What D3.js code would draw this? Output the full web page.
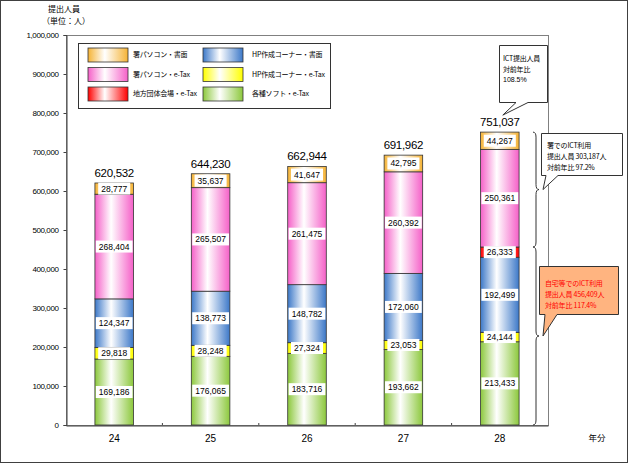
<!DOCTYPE html>
<html>
<head>
<meta charset="utf-8">
<script src="https://d3js.org/d3.v7.min.js"></script>
<style>
  body { margin: 0; background: #fff; }
  svg { display: block; }
  text { font-family: "Liberation Sans", "Noto Sans CJK JP", sans-serif; }
  .jp { font-family: "Noto Sans CJK JP", sans-serif; }
</style>
</head>
<body>
<div id="chart"></div>
<script>
// 年分
const years = ["24", "25", "26", "27", "28"];
// series, bottom to top
const softEtax  = [169186, 176065, 183716, 193662, 213433];
const hpEtax    = [29818, 28248, 27324, 23053, 24144];
const hpPaper   = [124347, 138773, 148782, 172060, 192499];
const localEtax = [0, 0, 0, 0, 26333];
const pcEtax    = [268404, 265507, 261475, 260392, 250361];
const pcPaper   = [28777, 35637, 41647, 42795, 44267];
const yTicks = [0, 100000, 200000, 300000, 400000, 500000, 600000, 700000, 800000, 900000, 1000000];

const seriesDefs = [
  { key: "soft",  name: "各種ソフト・e-Tax",     color: "#8cc83c", values: softEtax },
  { key: "hpE",   name: "HP作成コーナー・e-Tax", color: "#ffff00", values: hpEtax },
  { key: "hpP",   name: "HP作成コーナー・書面",   color: "#3c78c8", values: hpPaper },
  { key: "local", name: "地方団体会場・e-Tax",   color: "#ff0000", values: localEtax },
  { key: "pcE",   name: "署パソコン・e-Tax",     color: "#f560c8", values: pcEtax },
  { key: "pcP",   name: "署パソコン・書面",       color: "#f5b335", values: pcPaper }
];

const W = 628, H = 464;
const plot = { left: 66, right: 548, top: 35, bottom: 425 };

const svg = d3.select("#chart").append("svg").attr("width", W).attr("height", H);

// gradients: colour at edges, white toward the middle
const defs = svg.append("defs");
seriesDefs.forEach((s) => {
  const g = defs.append("linearGradient").attr("id", "grad-" + s.key)
    .attr("x1", "0%").attr("x2", "100%").attr("y1", "0%").attr("y2", "0%");
  g.append("stop").attr("offset", "0%").attr("stop-color", s.color);
  g.append("stop").attr("offset", "42%").attr("stop-color", "#ffffff");
  g.append("stop").attr("offset", "100%").attr("stop-color", s.color);
});

// outer frame
svg.append("rect")
  .attr("x", 0.5).attr("y", 0.5).attr("width", W - 1).attr("height", H - 2)
  .attr("fill", "#fff").attr("stroke", "#404040").attr("stroke-width", 1);

// table for stack
const table = years.map((y, i) => {
  const row = { year: y };
  seriesDefs.forEach((s) => { row[s.key] = s.values[i]; });
  return row;
});
const stacked = d3.stack().keys(seriesDefs.map((s) => s.key))(table);

// Scales
const x = d3.scaleBand().domain(years)
  .range([plot.left, plot.right]).paddingInner(0.6).paddingOuter(0.3);
const y = d3.scaleLinear().domain([0, 1000000]).range([plot.bottom, plot.top]);

// plot frame
svg.append("rect")
  .attr("x", plot.left + 0.5).attr("y", plot.top + 0.5)
  .attr("width", plot.right - plot.left).attr("height", plot.bottom - plot.top)
  .attr("fill", "none").attr("stroke", "#808080");

// Y axis
const yAxis = svg.append("g")
  .attr("transform", `translate(${plot.left + 0.5},0)`)
  .call(d3.axisLeft(y).tickValues(yTicks).tickFormat(d3.format(",")).tickSize(3).tickPadding(5));
yAxis.select(".domain").attr("stroke", "#404040");
yAxis.selectAll(".tick line").attr("stroke", "#404040");
yAxis.selectAll("text")
  .attr("font-size", "8px").attr("fill", "#000").attr("letter-spacing", "-0.4px")
  .style("font-family", "'Liberation Sans Narrow', 'Liberation Sans', sans-serif");

// X axis
const xAxis = svg.append("g")
  .attr("transform", `translate(0,${plot.bottom + 0.5})`)
  .call(d3.axisBottom(x).tickSize(0).tickPadding(9));
xAxis.select(".domain").attr("stroke", "#404040");
xAxis.selectAll("text").attr("font-size", "10px").attr("fill", "#000");
// small separators between categories
svg.append("g").selectAll("line")
  .data(years.slice(1))
  .enter().append("line")
  .attr("x1", (d) => x(d) - (x.step() - x.bandwidth()) / 2)
  .attr("x2", (d) => x(d) - (x.step() - x.bandwidth()) / 2)
  .attr("y1", plot.bottom - 2).attr("y2", plot.bottom)
  .attr("stroke", "#404040");

// axis titles
svg.append("text").attr("class", "jp").attr("x", 64).attr("y", 12)
  .attr("text-anchor", "middle").attr("font-size", "8px").text("提出人員");
svg.append("text").attr("class", "jp").attr("x", 66).attr("y", 24)
  .attr("text-anchor", "middle").attr("font-size", "8px").text("（単位：人）");
svg.append("text").attr("class", "jp").attr("x", 597).attr("y", 441)
  .attr("text-anchor", "middle").attr("font-size", "8.5px").text("年分");

// Bars
const layers = svg.append("g").selectAll("g.layer")
  .data(stacked).enter().append("g").attr("class", "layer")
  .attr("fill", (d) => "url(#grad-" + d.key + ")");

layers.selectAll("rect")
  .data((d) => d.filter((p) => p[1] - p[0] > 0))
  .enter().append("rect")
  .attr("x", (d) => x(d.data.year))
  .attr("y", (d) => y(d[1]))
  .attr("width", x.bandwidth())
  .attr("height", (d) => y(d[0]) - y(d[1]))
  .attr("stroke", "#333").attr("stroke-width", 0.8);

// value labels with white boxes
const fmt = d3.format(",");
stacked.forEach((layer) => {
  layer.forEach((p) => {
    const v = p[1] - p[0];
    if (v <= 0) return;
    const cx = x(p.data.year) + x.bandwidth() / 2;
    const cy = (y(p[0]) + y(p[1])) / 2;
    const g = svg.append("g");
    const t = g.append("text")
      .attr("x", cx).attr("y", cy).attr("dy", "0.35em")
      .attr("text-anchor", "middle").attr("font-size", "8.5px").attr("fill", "#000")
      .text(fmt(v));
    const w = t.node().getComputedTextLength();
    g.insert("rect", "text")
      .attr("x", cx - w / 2 - 3).attr("y", cy - 6)
      .attr("width", w + 6).attr("height", 12)
      .attr("fill", "#fff");
  });
});

// totals
const totals = years.map((yr, i) => d3.sum(seriesDefs, (s) => s.values[i]));
svg.append("g").selectAll("text")
  .data(totals).enter().append("text")
  .attr("x", (d, i) => x(years[i]) + x.bandwidth() / 2)
  .attr("y", (d) => y(d) - 6)
  .attr("text-anchor", "middle").attr("font-size", "11.5px").attr("fill", "#000")
  .attr("letter-spacing", "-0.3px")
  .text((d) => fmt(d));

// Legend
const legend = svg.append("g");
legend.append("rect").attr("x", 78.5).attr("y", 43.5).attr("width", 252).attr("height", 65)
  .attr("fill", "#fff").attr("stroke", "#333");
const legendOrder = ["pcP", "pcE", "local", "hpP", "hpE", "soft"];
legendOrder.forEach((k, i) => {
  const s = seriesDefs.find((d) => d.key === k);
  const col = Math.floor(i / 3), row = i % 3;
  const lx = 88 + col * 115, ly = 48 + row * 19.5;
  legend.append("rect").attr("x", lx).attr("y", ly).attr("width", 40).attr("height", 14)
    .attr("fill", "url(#grad-" + k + ")").attr("stroke", "#333").attr("stroke-width", 0.8);
  legend.append("text").attr("class", "jp")
    .attr("x", lx + 45 + col * 4).attr("y", ly + 7).attr("dy", "0.35em")
    .attr("font-size", "7px").attr("letter-spacing", "-0.2px").text(s.name);
});

// Callouts
function callout(bx, by, bw, bh, tail, fill) {
  // tail: [startX, endX, tipX, tipY] on bottom edge
  const [t0, t1, tx, ty] = tail;
  const p = `M${bx},${by} H${bx + bw} V${by + bh} H${t1} L${tx},${ty} L${t0},${by + bh} H${bx} Z`;
  svg.append("path").attr("d", p).attr("fill", fill).attr("stroke", "#333").attr("stroke-width", 1);
}
function brace(xb, y0, y1) {
  const m = (y0 + y1) / 2;
  const p = `M${xb},${y0} Q${xb + 3},${y0} ${xb + 3},${y0 + 5} V${m - 5} Q${xb + 3},${m} ${xb + 6},${m}` +
    ` Q${xb + 3},${m} ${xb + 3},${m + 5} V${y1 - 5} Q${xb + 3},${y1} ${xb},${y1}`;
  svg.append("path").attr("d", p).attr("fill", "none").attr("stroke", "#333").attr("stroke-width", 1);
  return m;
}
function lines(x0, y0, step, arr, size, color) {
  arr.forEach((s, i) => {
    svg.append("text").attr("class", "jp").attr("x", x0).attr("y", y0 + i * step)
      .attr("font-size", size).attr("letter-spacing", "-0.2px").attr("fill", color).text(s);
  });
}

// ICT total
const x28 = x("28") + x.bandwidth() / 2;
callout(499.5, 45.5, 48, 57, [516, 528, x28 + 3, y(totals[4]) - 17], "#fff");
lines(503, 61, 11, ["ICT提出人員", "対前年比"], "7px", "#000");
svg.append("text").attr("x", 503).attr("y", 82).attr("font-size", "7px").text("108.5%");

// office ICT
const homeTop = d3.sum([softEtax, hpEtax, hpPaper, localEtax], (a) => a[4]);
const m1 = brace(533, y(totals[4]), y(homeTop));
callout(541.5, 133.5, 81, 42, [546, 558, 543, m1], "#fff");
lines(547, 148, 11, ["署でのICT利用", "提出人員 303,187人", "対前年比 97.2%"], "7px", "#000");

// home ICT
const m2 = brace(533, y(homeTop), y(0));
callout(539.5, 266.5, 79, 48, [545, 557, 543, m2], "#ffb480");
lines(545, 286, 11, ["自宅等でのICT利用", "提出人員 456,409人", "対前年比 117.4%"], "7px", "#ff0000");
</script>
</body>
</html>
